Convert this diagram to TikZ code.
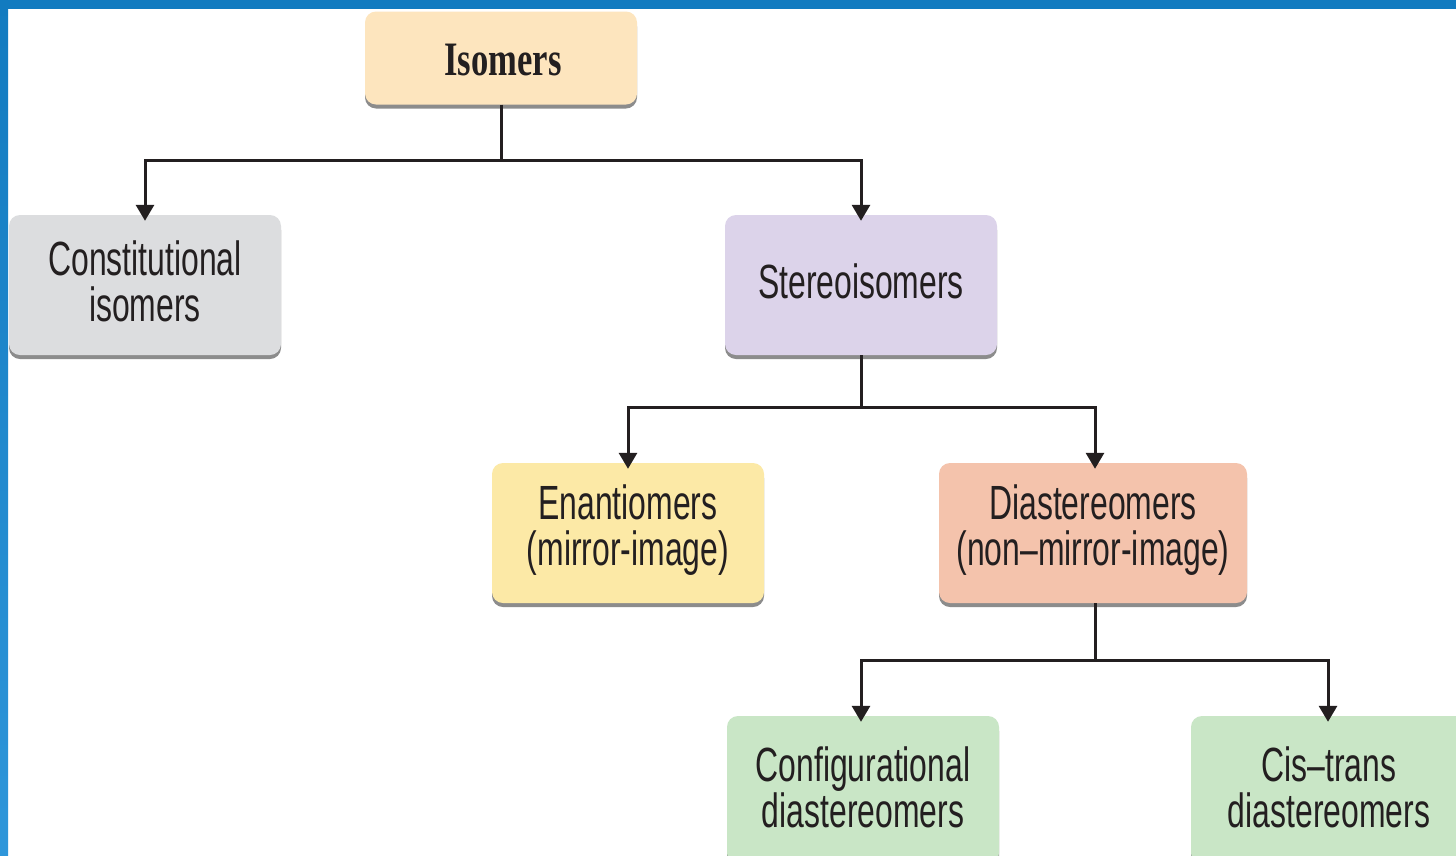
\documentclass[tikz,border=0pt]{standalone}
\usepackage{fontspec}
\setmainfont{Liberation Sans}[FakeStretch=0.665]
\newfontfamily\titlefont{Liberation Serif}[FakeStretch=0.72]
\usetikzlibrary{arrows.meta,shadows}
\definecolor{bandblue}{HTML}{127BC0}
\definecolor{bandblue2}{HTML}{2E96DA}
\definecolor{cIso}{HTML}{FDE5BE}
\definecolor{cCon}{HTML}{DCDDDF}
\definecolor{cSte}{HTML}{DCD3EA}
\definecolor{cEna}{HTML}{FCE9A6}
\definecolor{cDia}{HTML}{F4C3AC}
\definecolor{cGrn}{HTML}{C9E6C6}
\definecolor{txt}{HTML}{231F20}
\tikzset{
  box/.style={rectangle, rounded corners=11pt, minimum width=272pt, minimum height=140pt,
    inner sep=0pt,
    drop shadow={shadow xshift=0pt, shadow yshift=-4pt, fill=black!60, opacity=0.75}},
  tx/.style={align=center, text=txt, inner sep=0pt, font=\fontsize{48}{46}\selectfont},
  conn/.style={line width=3pt, draw=txt, -{Triangle[length=16pt,width=18pt]}},
  plain/.style={line width=3pt, draw=txt}
}
\begin{document}
\begin{tikzpicture}[x=1pt,y=-1pt]
\useasboundingbox (0,0) rectangle (1456,855);
\fill[white] (0,0) rectangle (1456,855);
\begin{scope}
\clip (0,0) rectangle (1456,855);
\node[box, fill=cIso, minimum height=93pt] (iso) at (501,58) {};
\node[box, fill=cCon] (con) at (145,285) {};
\node[box, fill=cSte] (ste) at (861,285) {};
\node[box, fill=cEna] (ena) at (628,533) {};
\node[box, fill=cDia, minimum width=308pt] (dia) at (1093,533) {};
\node[box, fill=cGrn, minimum height=148pt] (cfg) at (863,790) {};
\node[box, fill=cGrn, minimum height=148pt, minimum width=276pt] (cis) at (1329,790) {};

\node[tx, font=\titlefont\bfseries\fontsize{48}{46}\selectfont] (iso-t) at ([xshift=2pt,yshift=-2pt]iso) {Isomers};
\node[tx] (con-t) at ([yshift=4pt]con) {Constitutional\\isomers};
\node[tx] (ste-t) at ([yshift=4pt]ste) {Stereoisomers};
\node[tx] (ena-t) at ([yshift=3pt]ena) {Enantiomers\\(mirror-image)};
\node[tx] (dia-t) at ([yshift=3pt]dia) {Diastereomers\\(non–mirror-image)};
\node[tx] (cfg-t) at ([yshift=3pt]cfg) {Configurational\\diastereomers};
\node[tx] (cis-t) at ([yshift=3pt]cis) {Cis–trans\\diastereomers};

\coordinate (j1) at (501,160);
\coordinate (j2) at (861,407);
\coordinate (j3) at (1095,660);
\draw[plain] (iso.south) -- (j1);
\draw[conn] (j1) -| ([yshift=-6pt]con.north);
\draw[conn] (j1) -| ([yshift=-6pt]ste.north);
\draw[plain] (ste.south) -- (j2);
\draw[conn] (j2) -| ([yshift=-6pt]ena.north);
\draw[conn] (j2) -| ([yshift=-6pt]dia.north -| 1095,0);
\draw[plain] (dia.south -| j3) -- (j3);
\draw[conn] (j3) -| ([yshift=-6pt]cfg.north -| 861,0);
\draw[conn] (j3) -| ([yshift=-6pt]cis.north -| 1328,0);
\end{scope}
\fill[bandblue] (0,0) rectangle (1456,9);
\shade[top color=bandblue, bottom color=bandblue2] (0,0) rectangle (8,855);
\end{tikzpicture}
\end{document}
